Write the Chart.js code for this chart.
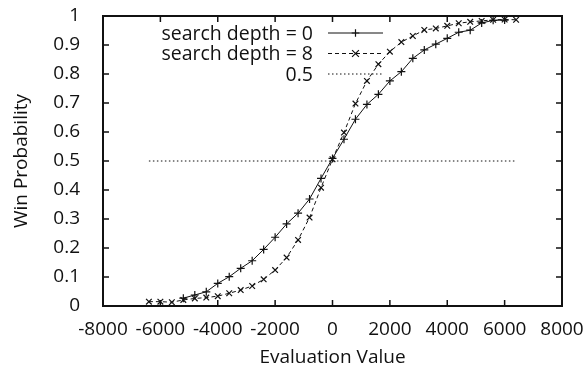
<!DOCTYPE html>
<html>
<head>
<meta charset="utf-8">
<script src="https://cdn.jsdelivr.net/npm/chart.js@4"></script>
<style>
  html, body { margin: 0; padding: 0; background: #fff; }
</style>
</head>
<body>
<canvas id="myChart" width="588" height="369"></canvas>
<script>
// evaluation value bins
const evals = [-6400, -6000, -5600, -5200, -4800, -4400, -4000, -3600, -3200, -2800, -2400,
    -2000, -1600, -1200, -800, -400, 0, 400, 800, 1200, 1600, 2000, 2400, 2800, 3200,
    3600, 4000, 4400, 4800, 5200, 5600, 6000, 6400];
const depth0 = [null, null, null, 0.027, 0.038, 0.049, 0.078, 0.101, 0.130, 0.156, 0.195,
    0.237, 0.283, 0.320, 0.369, 0.440, 0.509, 0.575, 0.644, 0.695, 0.730, 0.776, 0.808,
    0.854, 0.883, 0.903, 0.923, 0.944, 0.951, 0.976, 0.985, 0.986, null];
const depth8 = [0.015, 0.015, 0.013, 0.021, 0.026, 0.029, 0.034, 0.044, 0.055, 0.069, 0.092,
    0.124, 0.167, 0.228, 0.305, 0.408, 0.506, 0.598, 0.698, 0.776, 0.834, 0.877, 0.910,
    0.931, 0.952, 0.957, 0.966, 0.975, 0.980, 0.983, 0.987, 0.988, 0.987];
const halfX = [-6400, 6400];
const halfY = [0.5, 0.5];
const legendLabels = ['search depth = 0', 'search depth = 8', '0.5'];

const FONT = "'Open Sans', sans-serif";
const INK = '#111';

const pts = (xs, ys) => xs.map((x, i) => ({x: x, y: ys[i]}));

// gnuplot style frame with inward ticks + key
const framePlugin = {
    id: 'frame',
    afterDraw(chart) {
        const ctx = chart.ctx;
        const a = chart.chartArea;
        const sx = chart.scales.x, sy = chart.scales.y;
        ctx.save();
        ctx.strokeStyle = INK;
        ctx.lineWidth = 1.5;
        ctx.setLineDash([]);
        ctx.beginPath();
        for (const t of sx.ticks) {
            const p = sx.getPixelForValue(t.value);
            ctx.moveTo(p, a.bottom); ctx.lineTo(p, a.bottom - 6);
            ctx.moveTo(p, a.top); ctx.lineTo(p, a.top + 6);
        }
        for (const t of sy.ticks) {
            const p = sy.getPixelForValue(t.value);
            ctx.moveTo(a.left, p); ctx.lineTo(a.left + 6, p);
            ctx.moveTo(a.right, p); ctx.lineTo(a.right - 6, p);
        }
        ctx.stroke();
        ctx.lineWidth = 2;
        ctx.strokeRect(a.left, a.top, a.right - a.left, a.bottom - a.top);

        // key
        const textRight = 313, x0 = 328, x1 = 383;
        const rows = [33, 53.5, 74];
        ctx.font = '19.5px ' + FONT;
        ctx.fillStyle = INK;
        ctx.textAlign = 'right';
        ctx.textBaseline = 'middle';
        chart.data.datasets.forEach((ds, i) => {
            const y = rows[i];
            ctx.fillText(legendLabels[i], textRight, y + 1);
            ctx.lineWidth = 1;
            ctx.setLineDash(ds.borderDash || []);
            ctx.beginPath();
            ctx.moveTo(x0, y); ctx.lineTo(x1, y);
            ctx.stroke();
            ctx.setLineDash([]);
            if (ds.pointRadius > 0) {
                const cx = (x0 + x1) / 2, r = 3.8;
                ctx.lineWidth = 1.2;
                ctx.beginPath();
                if (ds.pointStyle === 'cross') {
                    ctx.moveTo(cx - r, y); ctx.lineTo(cx + r, y);
                    ctx.moveTo(cx, y - r); ctx.lineTo(cx, y + r);
                } else {
                    const d = r * 0.9;
                    ctx.moveTo(cx - d, y - d); ctx.lineTo(cx + d, y + d);
                    ctx.moveTo(cx - d, y + d); ctx.lineTo(cx + d, y - d);
                }
                ctx.stroke();
            }
        });
        ctx.restore();
    }
};

window.onload = () => {
    const ctx = document.getElementById('myChart');
    window.chart = new Chart(ctx, {
        type: 'line',
        data: {
            datasets: [
                {
                    label: legendLabels[0],
                    data: pts(evals, depth0),
                    borderColor: INK,
                    borderWidth: 1,
                    pointStyle: 'cross',
                    pointRadius: 4,
                    pointBorderColor: INK,
                    pointBorderWidth: 1.2,
                    tension: 0
                },
                {
                    label: legendLabels[1],
                    data: pts(evals, depth8),
                    borderColor: INK,
                    borderWidth: 1,
                    borderDash: [4, 3],
                    pointStyle: 'crossRot',
                    pointRadius: 4,
                    pointBorderColor: INK,
                    pointBorderWidth: 1.2,
                    tension: 0
                },
                {
                    label: legendLabels[2],
                    data: pts(halfX, halfY),
                    borderColor: INK,
                    borderWidth: 1,
                    borderDash: [1.5, 2.5],
                    pointRadius: 0,
                    tension: 0
                }
            ]
        },
        options: {
            responsive: false,
            animation: false,
            layout: { padding: { top: 16, right: 26, left: 0, bottom: 0 } },
            plugins: { legend: { display: false }, tooltip: { enabled: false } },
            scales: {
                x: {
                    type: 'linear',
                    min: -8000,
                    max: 8000,
                    afterFit: (s) => { s.height = 63; s.paddingLeft = 0; s.paddingRight = 0; },
                    grid: { display: false },
                    border: { display: false },
                    ticks: {
                        stepSize: 2000,
                        padding: 4,
                        color: INK,
                        font: { family: FONT, size: 19 },
                        maxRotation: 0,
                        callback: (v) => String(v)
                    },
                    title: {
                        display: true,
                        text: 'Evaluation Value',
                        color: INK,
                        font: { family: FONT, size: 19 },
                        padding: { top: 0, bottom: 0 }
                    }
                },
                y: {
                    min: 0,
                    max: 1,
                    afterFit: (s) => { s.width = 103; s.paddingTop = 0; s.paddingBottom = 0; },
                    grid: { display: false },
                    border: { display: false },
                    ticks: {
                        stepSize: 0.1,
                        padding: 15,
                        color: INK,
                        font: { family: FONT, size: 19 },
                        callback: (v) => String(+v.toFixed(1))
                    },
                    title: {
                        display: true,
                        text: 'Win Probability',
                        color: INK,
                        font: { family: FONT, size: 19 },
                        padding: { top: 10, bottom: 0 }
                    }
                }
            }
        },
        plugins: [framePlugin]
    });
};
</script>
</body>
</html>
